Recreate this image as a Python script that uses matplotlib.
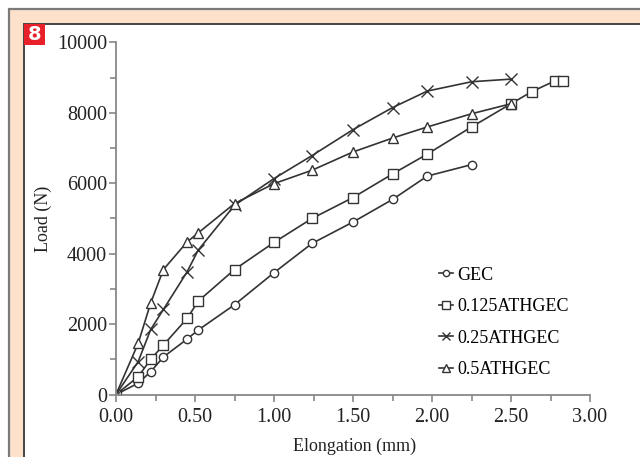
import matplotlib
matplotlib.use('Agg')
import matplotlib.pyplot as plt
from matplotlib.patches import Rectangle
from matplotlib.ticker import MultipleLocator

# elongation (mm) and load (N)
x_gec = [0, 0.14, 0.22, 0.30, 0.45, 0.52, 0.75, 1.00, 1.24, 1.50, 1.75, 1.97, 2.25]
y_gec = [0, 320, 650, 1065, 1575, 1830, 2550, 3460, 4290, 4900, 5540, 6205, 6530]

x_125 = [0, 0.14, 0.22, 0.30, 0.45, 0.52, 0.75, 1.00, 1.24, 1.50, 1.75, 1.97, 2.25, 2.50, 2.63, 2.78, 2.83]
y_125 = [0, 505, 1000, 1405, 2160, 2650, 3550, 4320, 5000, 5595, 6265, 6830, 7600, 8260, 8600, 8915, 8915]

x_25 = [0, 0.14, 0.22, 0.30, 0.45, 0.52, 0.75, 1.00, 1.24, 1.50, 1.75, 1.97, 2.25, 2.50]
y_25 = [0, 930, 1850, 2415, 3485, 4100, 5375, 6135, 6785, 7525, 8150, 8620, 8885, 8960]

x_5 = [0, 0.14, 0.22, 0.30, 0.45, 0.52, 0.75, 1.00, 1.24, 1.50, 1.75, 1.97, 2.25, 2.50]
y_5 = [0, 1450, 2605, 3550, 4335, 4590, 5425, 5990, 6370, 6890, 7285, 7600, 7975, 8260]

labels = ['GEC', '0.125ATHGEC', '0.25ATHGEC', '0.5ATHGEC']

plt.rcParams['font.family'] = ['Liberation Serif', 'DejaVu Serif']

fig = plt.figure(figsize=(6.4, 4.57), dpi=100)
W, H = 640, 457

# page frame: peach band with grey rules, white inside
fig.patches.append(Rectangle((8.5 / W, -0.1), 1.2, 1 - 8.5 / H + 0.1, transform=fig.transFigure,
                             facecolor='#fde1cb', edgecolor='#7a7a7a', lw=1.6, zorder=-3))
fig.patches.append(Rectangle((23.5 / W, -0.1), 1.2, 1 - 23.5 / H + 0.1, transform=fig.transFigure,
                             facecolor='white', edgecolor='#444444', lw=1.4, zorder=-2))
fig.patches.append(Rectangle((23.5 / W, 1 - 44.5 / H), 21.5 / W, 21 / H, transform=fig.transFigure,
                             facecolor='#e8202a', edgecolor='none', zorder=-1))
fig.text(34.5 / W, 1 - 34 / H, '8', color='white', fontsize=14, fontweight='bold',
         family='DejaVu Sans', ha='center', va='center')

ax = fig.add_axes([116 / W, 1 - 394.5 / H, 474 / W, 352 / H])
ax.set_facecolor('none')
ax.set_zorder(5)

lc = '#333333'
kw = dict(color=lc, lw=1.2, mfc='white', mec=lc, mew=1.0)
ax.plot(x_gec, y_gec, marker='o', ms=6, label=labels[0], **kw)
ax.plot(x_125, y_125, marker='s', ms=7, label=labels[1], **kw)
ax.plot(x_25, y_25, marker='x', ms=8, label=labels[2], **kw)
ax.plot(x_5, y_5, marker='^', ms=7, label=labels[3], **kw)

ax.set_xlim(0, 3.0)
ax.set_ylim(0, 10000)
ax.xaxis.set_major_locator(MultipleLocator(0.5))
ax.xaxis.set_minor_locator(MultipleLocator(0.25))
ax.yaxis.set_major_locator(MultipleLocator(2000))
ax.yaxis.set_minor_locator(MultipleLocator(1000))
ax.xaxis.set_major_formatter(lambda v, p: f'{v:.2f}')

for s in ['top', 'right']:
    ax.spines[s].set_visible(False)
for s in ['left', 'bottom']:
    ax.spines[s].set_color('#888888')
    ax.spines[s].set_linewidth(1.3)
ax.tick_params(which='both', direction='out', color='#888888', width=1.2, labelsize=14.5,
               labelcolor='#222222')
ax.tick_params(which='major', length=5)
ax.tick_params(which='minor', length=4)
ax.tick_params(axis='x', pad=5)
ax.tick_params(axis='y', pad=1.5)

ax.set_xlabel('Elongation (mm)', fontsize=13, color='#222222')
ax.set_ylabel('Load (N)', fontsize=13, color='#222222')
ax.xaxis.set_label_coords(0.504, -0.123)
ax.yaxis.set_label_coords(-0.135, 0.5)

ax.legend(loc='upper left', bbox_to_anchor=(0.681, 0.363), frameon=False, fontsize=13,
          handlelength=0.78, handletextpad=0.25, labelspacing=0.8, borderaxespad=0,
          borderpad=0, markerscale=0.75)

fig.savefig('out.png', dpi=100)
